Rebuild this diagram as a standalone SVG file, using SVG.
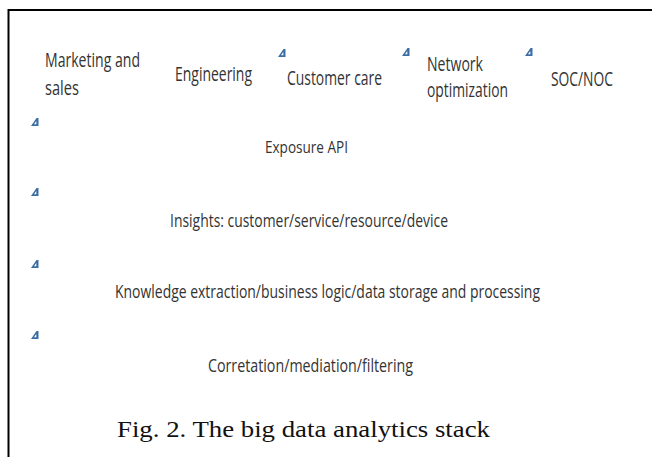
<svg xmlns="http://www.w3.org/2000/svg" xmlns:xlink="http://www.w3.org/1999/xlink" width="652" height="457" viewBox="0 0 652 457">
  <style>
    .lbl { font-family: "Open Sans", "Liberation Sans", sans-serif; fill: #333333; }
    .cap { font-family: "Liberation Serif", "DejaVu Serif", serif; fill: #111111; font-size: 23px; }
    .frame { fill: none; stroke: #000; stroke-width: 2; }
  </style>
  <defs>
    <!-- small blue layout anchor glyph -->
    <g id="anchor">
      <path d="M0,8 L5.5,0 L7.5,0 L7.5,8 Z" fill="#3d6ea3"/>
      <path d="M3,6.3 L5.3,3 L5.3,6.3 Z" fill="#ffffff"/>
    </g>
  </defs>

  <rect width="652" height="457" fill="#ffffff"/>
  <path class="frame" d="M8.5,457 V10 H652"/>

  <g id="anchors">
    <use xlink:href="#anchor" x="278" y="49"/>
    <use xlink:href="#anchor" x="402" y="48"/>
    <use xlink:href="#anchor" x="525" y="48"/>
    <use xlink:href="#anchor" x="31" y="118"/>
    <use xlink:href="#anchor" x="31" y="188"/>
    <use xlink:href="#anchor" x="31" y="260"/>
    <use xlink:href="#anchor" x="31" y="331"/>
  </g>

  <g id="marketing-sales">
    <text class="lbl" font-size="20" x="45" y="67" textLength="95" lengthAdjust="spacingAndGlyphs">Marketing and</text>
    <text class="lbl" font-size="20" x="45" y="95" textLength="34" lengthAdjust="spacingAndGlyphs">sales</text>
  </g>
  <g id="engineering">
    <text class="lbl" font-size="20" x="175" y="81" textLength="77" lengthAdjust="spacingAndGlyphs">Engineering</text>
  </g>
  <g id="customer-care">
    <text class="lbl" font-size="20" x="287" y="85" textLength="95" lengthAdjust="spacingAndGlyphs">Customer care</text>
  </g>
  <g id="network-optimization">
    <text class="lbl" font-size="20" x="427" y="71" textLength="56" lengthAdjust="spacingAndGlyphs">Network</text>
    <text class="lbl" font-size="20" x="427" y="97" textLength="81" lengthAdjust="spacingAndGlyphs">optimization</text>
  </g>
  <g id="soc-noc">
    <text class="lbl" font-size="20" x="551" y="86" textLength="62" lengthAdjust="spacingAndGlyphs">SOC/NOC</text>
  </g>

  <g id="exposure-api">
    <text class="lbl" font-size="17" x="265" y="153" textLength="83" lengthAdjust="spacingAndGlyphs">Exposure API</text>
  </g>
  <g id="insights">
    <text class="lbl" font-size="18.5" x="170" y="227" textLength="278" lengthAdjust="spacingAndGlyphs">Insights: customer/service/resource/device</text>
  </g>
  <g id="knowledge">
    <text class="lbl" font-size="17.5" x="115" y="298" textLength="425" lengthAdjust="spacingAndGlyphs">Knowledge extraction/business logic/data storage and processing</text>
  </g>
  <g id="correlation">
    <text class="lbl" font-size="17.5" x="208" y="372" textLength="205" lengthAdjust="spacingAndGlyphs">Corretation/mediation/filtering</text>
  </g>

  <text class="cap" x="117" y="437" textLength="373" lengthAdjust="spacingAndGlyphs">Fig. 2. The big data analytics stack</text>
</svg>
